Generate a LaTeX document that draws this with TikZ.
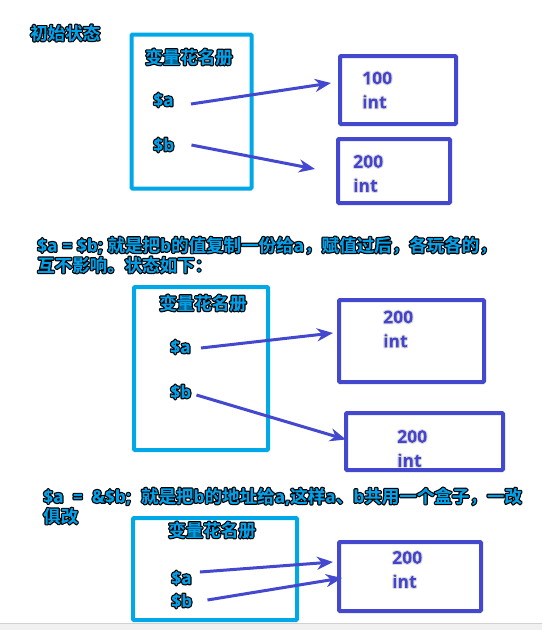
\documentclass[tikz,border=0pt]{standalone}
\usepackage{fontspec}
\usetikzlibrary{arrows.meta,calc}
\newfontfamily\cjk{Noto Sans CJK SC Bold}
\newfontfamily\lat{Open Sans}[BoldFont=* Bold]
\newcommand\la[1]{{\lat\bfseries #1}}
\definecolor{cyanT}{HTML}{00A0E9}
\definecolor{cyanB}{HTML}{00A8E8}
\definecolor{blueB}{HTML}{4348CF}
\definecolor{blueT}{HTML}{4444CC}
% outlined text, one copy: #1 outline width, #2 outline rgb, #3 fill rgb, #4 fill colour name, #5 text
\newcommand\olt[5]{{\color{#4}\special{pdf:literal direct q 6 Tr #1 w 1 j #2 RG}#5\special{pdf:literal direct #3 rg -9999 -9999 19998 19998 re f Q}}}
\newcommand\cy[1]{\olt{2.4}{0 0 0}{0 0.627 0.914}{cyanT}{#1}}
\newcommand\vt[1]{\olt{2.2}{0.85 0.85 0.85}{0.267 0.267 0.8}{blueT}{\la{#1}}}
\tikzset{
  lbl/.style={font=\cjk\fontsize{17.5}{20}\selectfont, inner sep=0pt, align=left},
  namebox/.style={draw=cyanB, line width=4pt, inner sep=0pt, rounded corners=1pt},
  valbox/.style={draw=blueB, line width=4pt, inner sep=0pt, rounded corners=1pt},
  valtxt/.style={font=\fontsize{17.5}{24}\selectfont, inner sep=0pt, align=left, anchor=west},
  arr/.style={draw=blueB, line width=3pt, -{Stealth[length=16pt,width=13pt,inset=5pt]}},
}
\begin{document}
\begin{tikzpicture}[x=1pt,y=-1pt]
\useasboundingbox (0,0) rectangle (542,630);
\fill[white] (0,0) rectangle (542,630);
\fill[black!6] (0,623) rectangle (542,630);
\draw[black!18, line width=1pt] (0,623.5) -- (542,623.5);

% ---- section 1
\node[lbl, anchor=west] (t1) at (30,33) {\cy{初始状态}};
\node[namebox, minimum width=120pt, minimum height=154pt] (nb1) at (191.5,111.5) {};
\node[lbl] (n1) at (189,57) {\cy{变量花名册}};
\node[lbl, anchor=west] (a1) at (153,100) {\cy{\la{\$a}}};
\node[lbl, anchor=west] (b1) at (153,145) {\cy{\la{\$b}}};
\node[valbox, minimum width=116pt, minimum height=68pt] (v1) at (398,90) {};
\node[valtxt] (v1t) at (362,90) {\vt{100}\\\vt{int}};
\node[valbox, minimum width=112pt, minimum height=64pt] (w1) at (394,171) {};
\node[valtxt] (w1t) at (353,173.5) {\vt{200}\\\vt{int}};
\draw[arr] ($(a1.east)+(17,4)$) -- ($(v1.west)+(-7,-7)$);
\draw[arr] ($(b1.east)+(17,0)$) -- ($(w1.west)+(-21,-2)$);

% ---- section 2
\node[lbl, anchor=west] (t2) at (37,255) {\cy{\la{\$a = \$b; }就是把\la{b}的值复制一份给\la{a}，赋值过后，各玩各的，}\\\cy{互不影响。状态如下：}};
\node[namebox, minimum width=134pt, minimum height=163pt] (nb2) at (201,368.5) {};
\node[lbl] (n2) at (203,303) {\cy{变量花名册}};
\node[lbl, anchor=west] (a2) at (170,347) {\cy{\la{\$a}}};
\node[lbl, anchor=west] (b2) at (170,392) {\cy{\la{\$b}}};
\node[valbox, minimum width=145pt, minimum height=82pt] (v2) at (411.5,341) {};
\node[valtxt] (v2t) at (383,329) {\vt{200}\\\vt{int}};
\node[valbox, minimum width=157pt, minimum height=57pt] (w2) at (424.5,441.5) {};
\node[valtxt] (w2t) at (397,448.5) {\vt{200}\\\vt{int}};
\draw[arr] ($(a2.east)+(10,1)$) -- ($(v2.west)+(-4,-8)$);
\draw[arr] ($(b2.east)+(5,3)$) -- ($(w2.west)+(2,-2)$);

% ---- section 3
\node[lbl, anchor=west] (t3) at (43,506) {\cy{\la{\$a\hspace{9pt}=\hspace{9pt}\&\$b;\hspace{10pt}}就是把\la{b}的地址给\la{a,}这样\la{a}、\la{b}共用一个盒子，一改}\\\cy{俱改}};
\node[namebox, minimum width=164pt, minimum height=102pt] (nb3) at (215,569) {};
\node[lbl] (n3) at (212,530) {\cy{变量花名册}};
\node[lbl, anchor=west] (a3) at (171,578) {\cy{\la{\$a}}};
\node[lbl, anchor=west] (b3) at (171,601) {\cy{\la{\$b}}};
\node[valbox, minimum width=142pt, minimum height=69pt] (v3) at (410,576.5) {};
\node[valtxt] (v3t) at (392,569.5) {\vt{200}\\\vt{int}};
\draw[arr] ($(a3.east)+(8,-6)$) -- ($(v3.west)+(-4,-14.5)$);
\draw[arr] ($(b3.east)+(15,-1)$) -- ($(v3.west)+(5,1.5)$);
\end{tikzpicture}
\end{document}
